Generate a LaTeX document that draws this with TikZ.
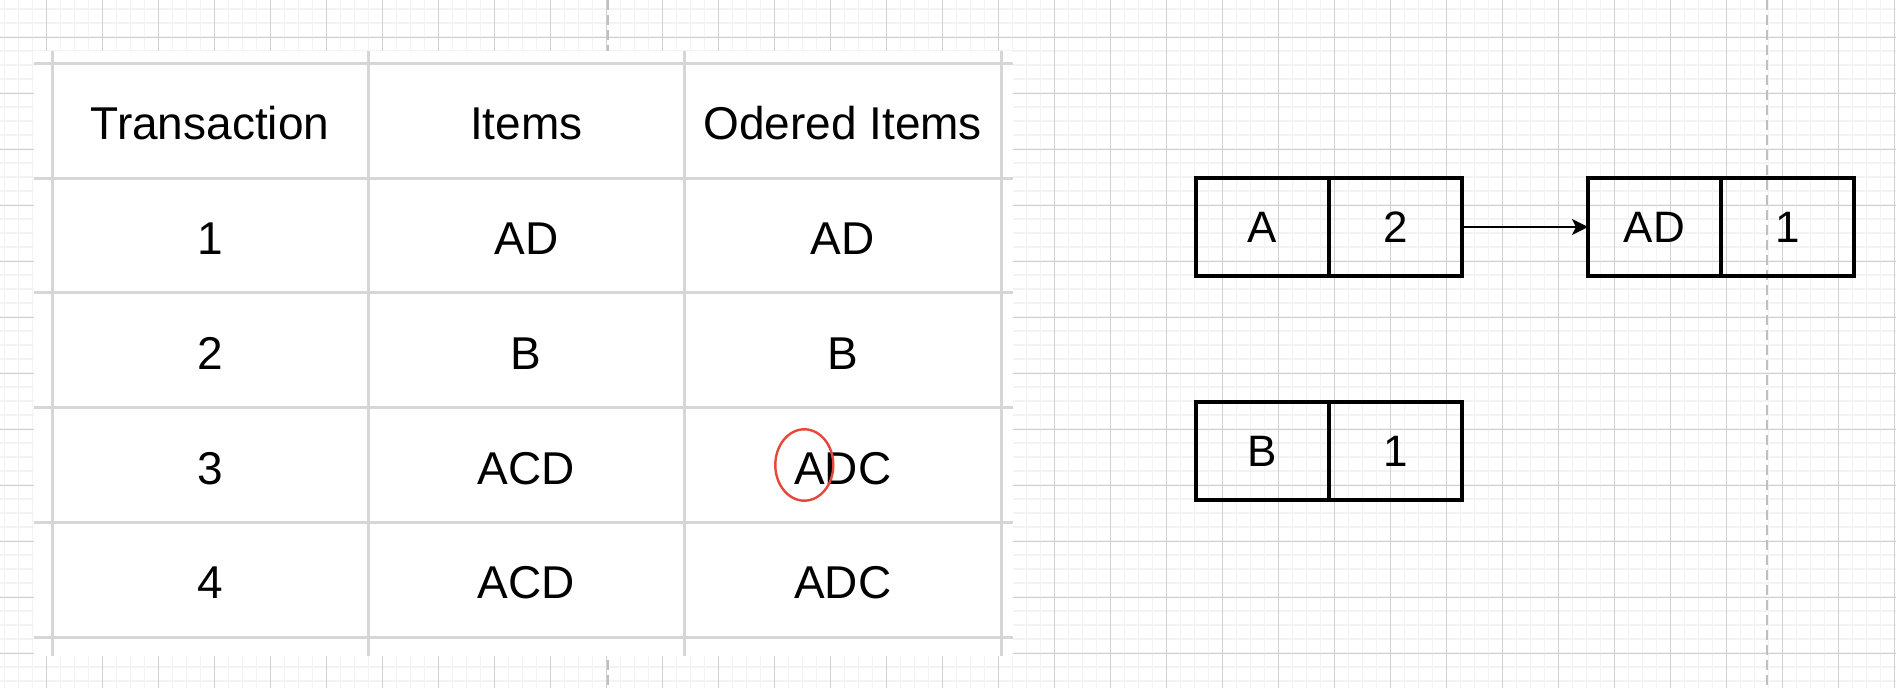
\documentclass[tikz,border=0pt]{standalone}
\usepackage{fontspec}
\setmainfont{Liberation Sans}
\usetikzlibrary{positioning,arrows.meta}

\definecolor{gridminor}{HTML}{F3F3F3}
\definecolor{gridmajor}{HTML}{D0D0D0}
\definecolor{tableline}{HTML}{D6D6D6}
\definecolor{markred}{HTML}{E8453C}

\tikzset{
	cell/.style={anchor=base, inner sep=0pt, font=\fontsize{23}{23}\selectfont},
	half/.style={draw, line width=1.6pt, minimum width=66.5pt, minimum height=49pt,
		outer sep=0pt, inner sep=0pt, font=\fontsize{22}{22}\selectfont},
	rowline/.style={draw=tableline, line width=1.5pt},
	pageline/.style={draw=gray!50, line width=0.75pt, dash pattern=on 5pt off 2.5pt}
}

\begin{document}
\begin{tikzpicture}[x=0.5pt,y=-0.5pt]
	% canvas
	\useasboundingbox (0,0) rectangle (1896,688);
	\fill[white] (0,0) rectangle (1896,688);
	\begin{scope}
		\clip (0,0) rectangle (1896,688);
		\begin{scope}[shift={(46.4,37.3)}]
			\draw[gridminor, line width=0.8pt, step=7pt] (-60,700) grid (1900,-50);
			\draw[gridmajor, line width=0.6pt, step=28pt] (-60,700) grid (1900,-50);
		\end{scope}
		\draw[pageline] (608,0)--(608,688);
		\draw[pageline] (1767,0)--(1767,688);
	\end{scope}

	% table
	\fill[white] (33.5,51) rectangle (1013,656);
	\draw[rowline] (33.5,63.3)--(1013,63.3);
	\draw[rowline] (33.5,178.1)--(1013,178.1);
	\draw[rowline] (33.5,292.9)--(1013,292.9);
	\draw[rowline] (33.5,407.7)--(1013,407.7);
	\draw[rowline] (33.5,522.5)--(1013,522.5);
	\draw[rowline] (33.5,637.3)--(1013,637.3);
	\draw[rowline] (52,51)--(52,656);
	\draw[rowline] (368,51)--(368,656);
	\draw[rowline] (684.5,51)--(684.5,656);
	\draw[rowline] (1001,51)--(1001,656);

	\node[cell] (trans) at (210,139.7) {Transaction};
	\node[cell] (items) at (526.3,139.7) {Items};
	\node[cell] (ordered) at (842.7,139.7) {Odered Items};
	\node[cell] (t1) at (210,254.5) {1};
	\node[cell] (i1) at (526.3,254.5) {AD};
	\node[cell] (o1) at (842.7,254.5) {AD};
	\node[cell] (t2) at (210,369.3) {2};
	\node[cell] (i2) at (526.3,369.3) {B};
	\node[cell] (o2) at (842.7,369.3) {B};
	\node[cell] (t3) at (210,484.1) {3};
	\node[cell] (i3) at (526.3,484.1) {ACD};
	\node[cell] (o3) at (842.7,484.1) {ADC};
	\node[cell] (t4) at (210,598.9) {4};
	\node[cell] (i4) at (526.3,598.9) {ACD};
	\node[cell] (o4) at (842.7,598.9) {ADC};

	% mark on the first item
	\draw[markred, line width=1.2pt] (804.3,465) ellipse [x radius=29, y radius=35.7];

	% prefix tree nodes
	\node[half] (a) at (1262.5,227) {A};
	\node[half, right=0pt of a] (acount) {2};
	\node[half] (ad) at (1654.5,227) {AD};
	\node[half, right=0pt of ad] (adcount) {1};
	\node[half] (b) at (1262.5,451) {B};
	\node[half, right=0pt of b] (bcount) {1};

	\draw[-{Stealth[length=8pt,width=8pt,inset=2pt]}, line width=1.2pt] (acount)--(ad);
\end{tikzpicture}
\end{document}
